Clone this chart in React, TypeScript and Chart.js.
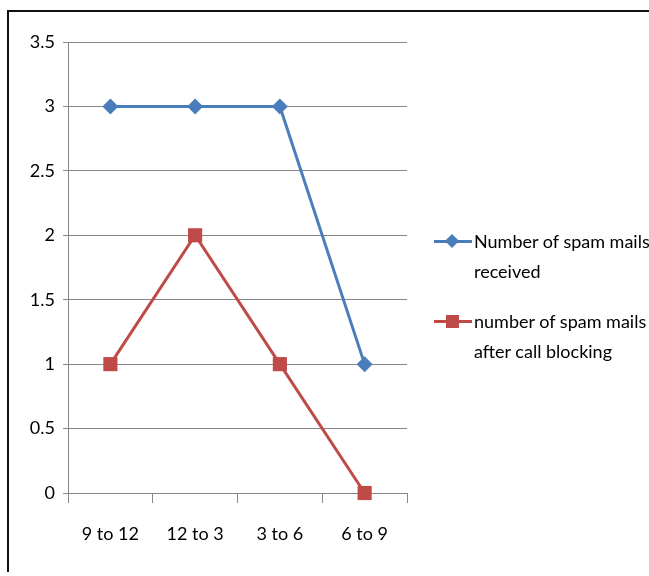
import React, { useEffect, useRef } from "react";
import { Chart, registerables } from "chart.js";

Chart.register(...registerables);

const categories = ["9 to 12", "12 to 3", "3 to 6", "6 to 9"];
const received = [3, 3, 3, 1];
const afterBlocking = [1, 2, 1, 0];
const seriesNames = [
  ["Number of spam mails", "received"],
  ["number of spam mails", "after call blocking"],
];
const yMin = 0;
const yMax = 3.5;
const yStep = 0.5;

const BLUE = "#4A7EBB";
const RED = "#BE4B48";
const FONT = "Lato, 'Liberation Sans Narrow', sans-serif";

export default function App() {
  const ref = useRef<HTMLCanvasElement | null>(null);

  useEffect(() => {
    if (!ref.current) return;
    const chart = new Chart(ref.current, {
      type: "line",
      data: {
        labels: categories,
        datasets: [
          {
            label: seriesNames[0].join(" "),
            data: received,
            borderColor: BLUE,
            backgroundColor: BLUE,
            borderWidth: 3,
            pointStyle: "rectRot",
            pointRadius: 8,
            pointBorderWidth: 0,
            tension: 0,
            clip: false,
          },
          {
            label: seriesNames[1].join(" "),
            data: afterBlocking,
            borderColor: RED,
            backgroundColor: RED,
            borderWidth: 3,
            pointStyle: "rect",
            pointRadius: 10,
            pointBorderWidth: 0,
            tension: 0,
            clip: false,
          },
        ],
      },
      options: {
        animation: false,
        responsive: false,
        layout: { padding: { left: 0, top: 42, right: 242, bottom: 0 } },
        plugins: { legend: { display: false }, tooltip: { enabled: false } },
        scales: {
          x: {
            offset: true,
            grid: {
              offset: true,
              drawOnChartArea: false,
              drawTicks: true,
              tickLength: 10,
              color: "#868686",
            },
            border: { display: true, color: "#868686" },
            ticks: {
              color: "#000",
              font: { family: FONT, size: 18 },
              padding: 20,
            },
            afterFit: (s: any) => {
              s.height = 83;
            },
          },
          y: {
            min: yMin,
            max: yMax,
            grid: {
              color: "#868686",
              lineWidth: 1,
              drawTicks: true,
              tickLength: 5,
            },
            border: { display: true, color: "#868686" },
            ticks: {
              stepSize: yStep,
              color: "#000",
              font: { family: FONT, size: 18 },
              padding: 8,
              callback: (v: any) => String(Number(v)),
            },
            afterFit: (s: any) => {
              s.width = 68;
            },
          },
        },
      },
    });
    return () => chart.destroy();
  }, []);

  const legendText: React.CSSProperties = {
    position: "absolute",
    left: 474,
    fontFamily: FONT,
    fontSize: 18,
    lineHeight: "30px",
    color: "#000",
    whiteSpace: "nowrap",
  };

  return (
    <div style={{ position: "absolute", left: 0, top: 0, width: 649, height: 576, background: "#fff", overflow: "hidden" }}>
      <canvas ref={ref} width={649} height={576} style={{ position: "absolute", left: 0, top: 0 }} />
      <div style={{ position: "absolute", left: 7, top: 10, width: 642, height: 2, background: "#111" }} />
      <div style={{ position: "absolute", left: 7, top: 10, width: 2, height: 562, background: "#111" }} />
      {/* legend entry 1 */}
      <div style={{ position: "absolute", left: 434, top: 240, width: 38, height: 3, background: BLUE }} />
      <div
        style={{
          position: "absolute",
          left: 447,
          top: 236,
          width: 10,
          height: 10,
          background: BLUE,
          transform: "rotate(45deg)",
        }}
      />
      <div style={{ ...legendText, top: 226 }}>
        {seriesNames[0][0]}
        <br />
        {seriesNames[0][1]}
      </div>
      {/* legend entry 2 */}
      <div style={{ position: "absolute", left: 434, top: 320, width: 38, height: 3, background: RED }} />
      <div style={{ position: "absolute", left: 446, top: 315, width: 13, height: 13, background: RED }} />
      <div style={{ ...legendText, top: 306 }}>
        {seriesNames[1][0]}
        <br />
        {seriesNames[1][1]}
      </div>
    </div>
  );
}
